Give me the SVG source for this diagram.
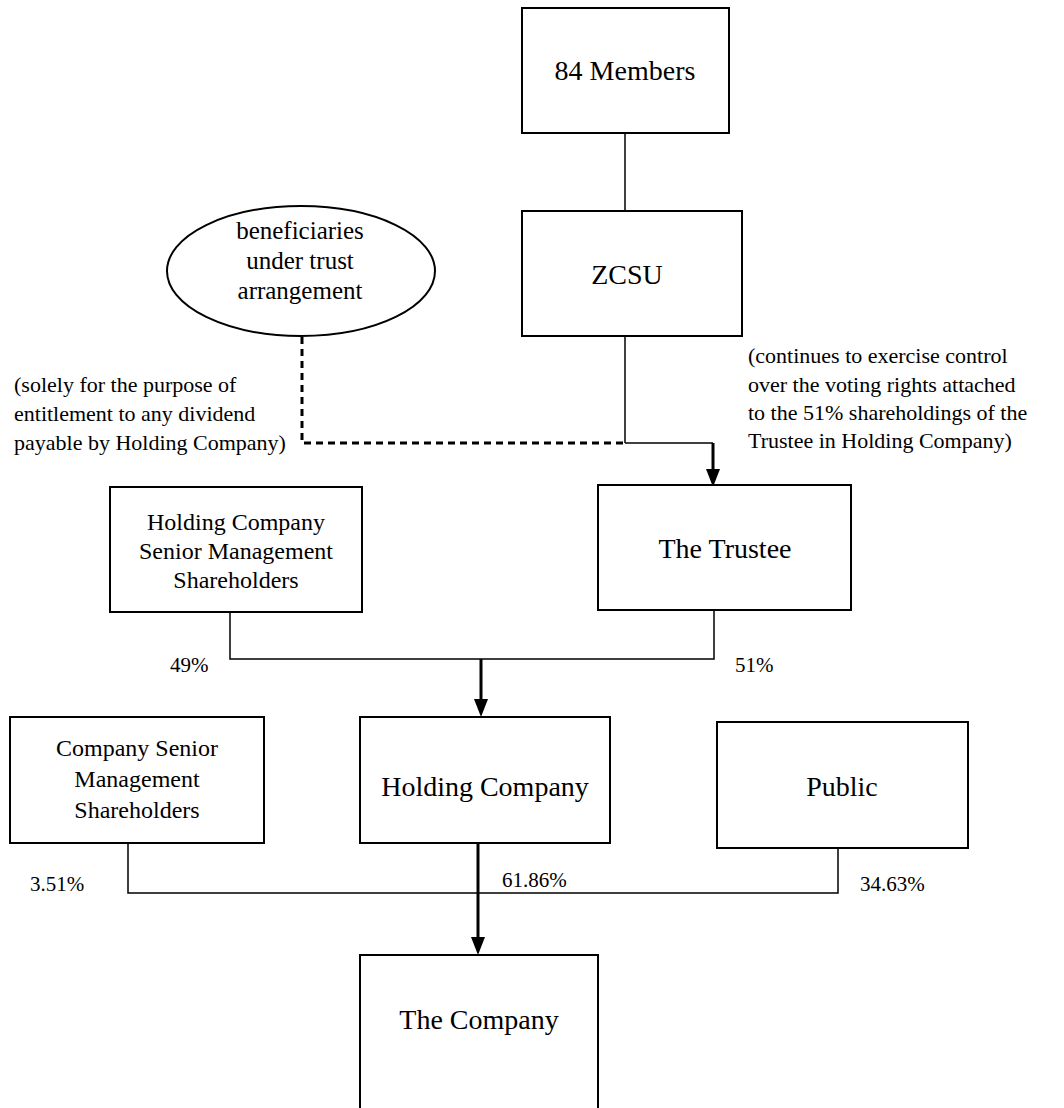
<svg xmlns="http://www.w3.org/2000/svg" width="1064" height="1108" viewBox="0 0 1064 1108">
<defs>
<style>
.box{fill:#fff;stroke:#000;stroke-width:2}
.t{font-family:"Liberation Serif","Times New Roman",serif;fill:#000;text-anchor:middle}
.big{font-size:28px}
.mid{font-size:24px}
.ell{font-size:25px}
.note{font-family:"Liberation Serif","Times New Roman",serif;font-size:22px;fill:#000}
.pct{font-family:"Liberation Serif","Times New Roman",serif;font-size:21px;fill:#000}
.ln{fill:none;stroke:#000;stroke-width:1.5}
.thick{fill:none;stroke:#000;stroke-width:3}
.dash{fill:none;stroke:#000;stroke-width:3;stroke-dasharray:7,5}
</style>
</defs>
<rect width="1064" height="1108" fill="#fff"/>
<g id="connectors">
<line class="ln" x1="625" y1="133" x2="625" y2="211"/>
<line class="ln" x1="625" y1="336" x2="625" y2="443"/>
<polyline class="dash" points="302,337 302,443 625,443"/>
<polyline class="ln" points="625,443 713,443"/>
<line class="thick" x1="713" y1="443" x2="713" y2="472"/>
<path d="M706,469 L720,469 L713,487 Z" fill="#000"/>
<polyline class="ln" points="230,612 230,659 714,659 714,610"/>
<line class="thick" x1="481" y1="659" x2="481" y2="702"/>
<path d="M474,699 L488,699 L481,717 Z" fill="#000"/>
<polyline class="ln" points="128,843 128,893 838,893 838,848"/>
<line class="thick" x1="478" y1="843" x2="478" y2="940"/>
<path d="M471,937 L485,937 L478,955 Z" fill="#000"/>
</g>
<g id="members84">
<rect class="box" x="522" y="8" width="207" height="125"/>
<text class="t big" x="625" y="80">84 Members</text>
</g>
<g id="zcsu">
<rect class="box" x="522" y="211" width="220" height="125"/>
<text class="t big" x="627" y="284">ZCSU</text>
</g>
<g id="beneficiaries">
<ellipse cx="301" cy="271" rx="134" ry="65" fill="#fff" stroke="#000" stroke-width="2"/>
<text class="t ell" x="300" y="239">beneficiaries</text>
<text class="t ell" x="300" y="269">under trust</text>
<text class="t ell" x="300" y="299">arrangement</text>
</g>
<g id="note-left">
<text class="note" x="14" y="392">(solely for the purpose of</text>
<text class="note" x="14" y="421">entitlement to any dividend</text>
<text class="note" x="14" y="450">payable by Holding Company)</text>
</g>
<g id="note-right">
<text class="note" x="748" y="363">(continues to exercise control</text>
<text class="note" x="748" y="392">over the voting rights attached</text>
<text class="note" x="748" y="420">to the 51% shareholdings of the</text>
<text class="note" x="748" y="448">Trustee in Holding Company)</text>
</g>
<g id="hcsm">
<rect class="box" x="110" y="487" width="252" height="125"/>
<text class="t mid" x="236" y="530">Holding Company</text>
<text class="t mid" x="236" y="559">Senior Management</text>
<text class="t mid" x="236" y="588">Shareholders</text>
</g>
<g id="trustee">
<rect class="box" x="598" y="485" width="253" height="125"/>
<text class="t big" x="725" y="558">The Trustee</text>
</g>
<g id="pct-top">
<text class="pct" x="170" y="672">49%</text>
<text class="pct" x="735" y="672">51%</text>
</g>
<g id="csms">
<rect class="box" x="10" y="717" width="254" height="126"/>
<text class="t mid" x="137" y="756">Company Senior</text>
<text class="t mid" x="137" y="787">Management</text>
<text class="t mid" x="137" y="818">Shareholders</text>
</g>
<g id="holding">
<rect class="box" x="360" y="717" width="250" height="126"/>
<text class="t big" x="485" y="796">Holding Company</text>
</g>
<g id="public">
<rect class="box" x="717" y="722" width="251" height="126"/>
<text class="t big" x="842" y="796">Public</text>
</g>
<g id="pct-bottom">
<text class="pct" x="30" y="891">3.51%</text>
<text class="pct" x="502" y="887">61.86%</text>
<text class="pct" x="860" y="891">34.63%</text>
</g>
<g id="company">
<rect class="box" x="360" y="955" width="238" height="170"/>
<text class="t big" x="479" y="1029">The Company</text>
</g>
</svg>
